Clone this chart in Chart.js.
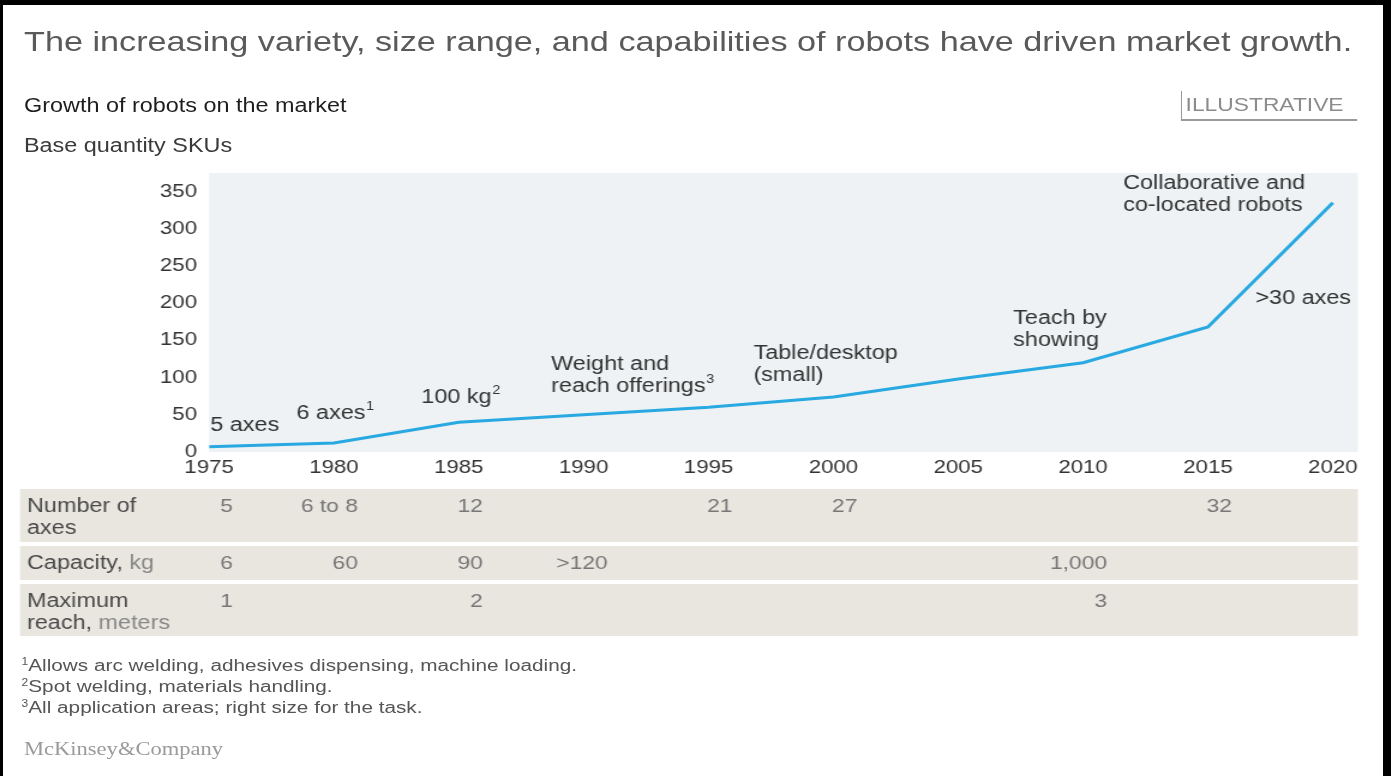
<!DOCTYPE html>
<html lang="en">
<head>
<meta charset="utf-8">
<title>Growth of robots on the market</title>
<script src="https://cdn.jsdelivr.net/npm/chart.js@4.4.1/dist/chart.umd.min.js"></script>
<style>
  html, body { margin: 0; padding: 0; background: #fff; }
  body { width: 1391px; height: 776px; position: relative; overflow: hidden; }
  .moldura { position: absolute; background: #000; }
  /* the reference is a bit wider than tall, so the page is stretched sideways */
  #pagina { position: absolute; left: 0; top: 0; width: 1159px; height: 776px;
            transform: scaleX(1.2); transform-origin: 0 0;
            font-family: 'Liberation Sans', Arial, sans-serif; }
  #pagina .txt { position: absolute; white-space: nowrap; line-height: 1; }
  #grafico { position: absolute; left: 0; top: 0; }
  #titulo { left: 20px; top: 27px; font-size: 28.5px; color: #5a5a5a; }
  #subtitulo { left: 20px; top: 96px; font-size: 19.5px; color: #1e1e1e; }
  #unidade { left: 20px; top: 136px; font-size: 19.5px; color: #3a3a3a; }
  #ilustrativo { position: absolute; left: 984px; top: 91px; width: 146px; height: 28px;
                 border-left: 1.5px solid #9a9a9a; border-bottom: 2px solid #9a9a9a; }
  #ilustrativo span { position: absolute; left: 3px; top: 4px; font-size: 19px; color: #8c8c8c; line-height: 1; white-space: nowrap; }
  #notas { position: absolute; left: 18px; top: 655px; font-size: 17.3px; line-height: 21px; color: #555; white-space: nowrap; }
  #notas sup { font-size: 10px; vertical-align: 6px; line-height: 0; }
  #marca { left: 20px; top: 740px; font-family: 'Liberation Serif', 'DejaVu Serif', serif; font-size: 18.8px; color: #9a9a9a; }
</style>
</head>
<body>
<div id="pagina">
  <canvas id="grafico" width="1159" height="776"></canvas>
  <div class="txt" id="titulo">The increasing variety, size range, and capabilities of robots have driven market growth.</div>
  <div class="txt" id="subtitulo">Growth of robots on the market</div>
  <div class="txt" id="unidade">Base quantity SKUs</div>
  <div id="ilustrativo"><span>ILLUSTRATIVE</span></div>
  <div id="notas">
    <div><sup>1</sup>Allows arc welding, adhesives dispensing, machine loading.</div>
    <div><sup>2</sup>Spot welding, materials handling.</div>
    <div><sup>3</sup>All application areas; right size for the task.</div>
  </div>
  <div class="txt" id="marca">McKinsey&amp;Company</div>
</div>
<div class="moldura" style="left:0;top:0;width:1391px;height:5px"></div>
<div class="moldura" style="left:0;top:0;width:3px;height:776px"></div>
<div class="moldura" style="left:1383px;top:0;width:8px;height:776px"></div>

<script>
const anos = [1975, 1980, 1985, 1990, 1995, 2000, 2005, 2010, 2015, 2020];
const skus = [7, 12, 40, 50, 60, 74, 98, 120, 168, 335];
const ticksY = [0, 50, 100, 150, 200, 250, 300, 350];
const ticksX = [1975, 1980, 1985, 1990, 1995, 2000, 2005, 2010, 2015, 2020];

// notas escritas dentro do gráfico
const notas = [
  { linhas: ['5 axes'], sup: '' },
  { linhas: ['6 axes'], sup: '1' },
  { linhas: ['100 kg'], sup: '2' },
  { linhas: ['Weight and', 'reach offerings'], sup: '3' },
  { linhas: ['Table/desktop', '(small)'], sup: '' },
  { linhas: ['Teach by', 'showing'], sup: '' },
  { linhas: ['Collaborative and', 'co-located robots'], sup: '' },
  { linhas: ['>30 axes'], sup: '' }
];
// onde começa cada nota (ano, valor)
const notasAncora = [[1975.05, 35], [1978.5, 51], [1983.5, 73], [1988.7, 118],
                     [1996.8, 132], [2007.2, 179], [2011.6, 361], [2016.9, 206]];

// tabela abaixo do gráfico
const tabelaRotulos = [
  [['Number of', ''], ['axes', '']],
  [['Capacity,', 'kg']],
  [['Maximum', ''], ['reach,', 'meters']]
];
const eixosAnos = [1975, 1980, 1985, 1995, 2000, 2015];
const eixosValores = ['5', '6 to 8', '12', '21', '27', '32'];
const capacidadeAnos = [1975, 1980, 1985, 1990, 2010];
const capacidadeValores = ['6', '60', '90', '>120', '1,000'];
const alcanceAnos = [1975, 1985, 2010];
const alcanceValores = ['1', '2', '3'];

const fonte = "'Liberation Sans', Arial, sans-serif";
Chart.defaults.font.family = fonte;

const fundoArea = {
  id: 'fundoArea',
  beforeDraw(chart) {
    const { ctx, chartArea: a } = chart;
    ctx.save();
    ctx.fillStyle = '#eef2f4';
    ctx.fillRect(a.left, a.top, a.right - a.left, a.bottom - a.top);
    ctx.restore();
  }
};

const textosNotas = {
  id: 'textosNotas',
  afterDatasetsDraw(chart) {
    const { ctx, scales: { x, y } } = chart;
    ctx.save();
    ctx.fillStyle = '#333';
    ctx.textAlign = 'left';
    ctx.textBaseline = 'middle';
    notas.forEach((n, i) => {
      const px = x.getPixelForValue(notasAncora[i][0]);
      const py = y.getPixelForValue(notasAncora[i][1]);
      n.linhas.forEach((l, j) => {
        ctx.font = '19.5px ' + fonte;
        ctx.fillText(l, px, py + j * 22);
        if (n.sup && j === n.linhas.length - 1) {
          const w = ctx.measureText(l).width;
          ctx.font = '12px ' + fonte;
          ctx.fillText(n.sup, px + w + 0.5, py + j * 22 - 7);
        }
      });
    });
    ctx.restore();
  }
};

const tabela = {
  id: 'tabela',
  afterDraw(chart) {
    const { ctx, chartArea: a, scales: { x } } = chart;
    const faixas = [[489, 542], [546, 580], [584, 636]];
    const colunas = [[eixosAnos, eixosValores], [capacidadeAnos, capacidadeValores], [alcanceAnos, alcanceValores]];
    ctx.save();
    faixas.forEach((f, i) => {
      ctx.fillStyle = '#e9e6df';
      ctx.fillRect(16.7, f[0], a.right - 16.7, f[1] - f[0]);
      ctx.textBaseline = 'middle';
      ctx.textAlign = 'left';
      tabelaRotulos[i].forEach((linha, j) => {
        const yy = f[0] + 18 + j * 22;
        ctx.font = '19.5px ' + fonte;
        ctx.fillStyle = '#4a4a4a';
        ctx.fillText(linha[0], 22.5, yy);
        if (linha[1]) {
          const w = ctx.measureText(linha[0] + ' ').width;
          ctx.fillStyle = '#888';
          ctx.fillText(linha[1], 22.5 + w, yy);
        }
      });
      ctx.font = '19px ' + fonte;
      ctx.fillStyle = '#777';
      ctx.textAlign = 'right';
      const [ca, cv] = colunas[i];
      ca.forEach((ano, k) => {
        ctx.fillText(cv[k], x.getPixelForValue(ano + 0.96), f[0] + 18);
      });
    });
    ctx.restore();
  }
};

new Chart(document.getElementById('grafico'), {
  type: 'line',
  data: {
    datasets: [{
      label: 'Base quantity SKUs',
      data: anos.map((a, i) => ({ x: a, y: skus[i] })),
      borderColor: '#29a9e1',
      borderWidth: 3,
      pointRadius: 0,
      tension: 0,
      fill: false
    }]
  },
  options: {
    responsive: false,
    devicePixelRatio: 1,
    animation: false,
    layout: { padding: { left: 114.2, right: 27.5, top: 173, bottom: 294 } },
    plugins: {
      legend: { display: false },
      tooltip: { enabled: false }
    },
    scales: {
      x: {
        type: 'linear',
        min: 1975,
        max: 2021,
        afterBuildTicks: s => { s.ticks = ticksX.map(v => ({ value: v })); },
        afterFit: s => { s.height = 30; },
        grid: { display: false, drawTicks: false },
        border: { display: false },
        ticks: { color: '#333', font: { size: 18.5 }, padding: 5, maxRotation: 0, callback: v => String(v) }
      },
      y: {
        min: 0,
        max: 375,
        afterBuildTicks: s => { s.ticks = ticksY.map(v => ({ value: v })); },
        afterFit: s => { s.width = 60; },
        grid: { display: false, drawTicks: false },
        border: { display: false },
        ticks: { color: '#333', font: { size: 18.5 }, padding: 10 }
      }
    }
  },
  plugins: [fundoArea, textosNotas, tabela]
});
</script>
</body>
</html>
